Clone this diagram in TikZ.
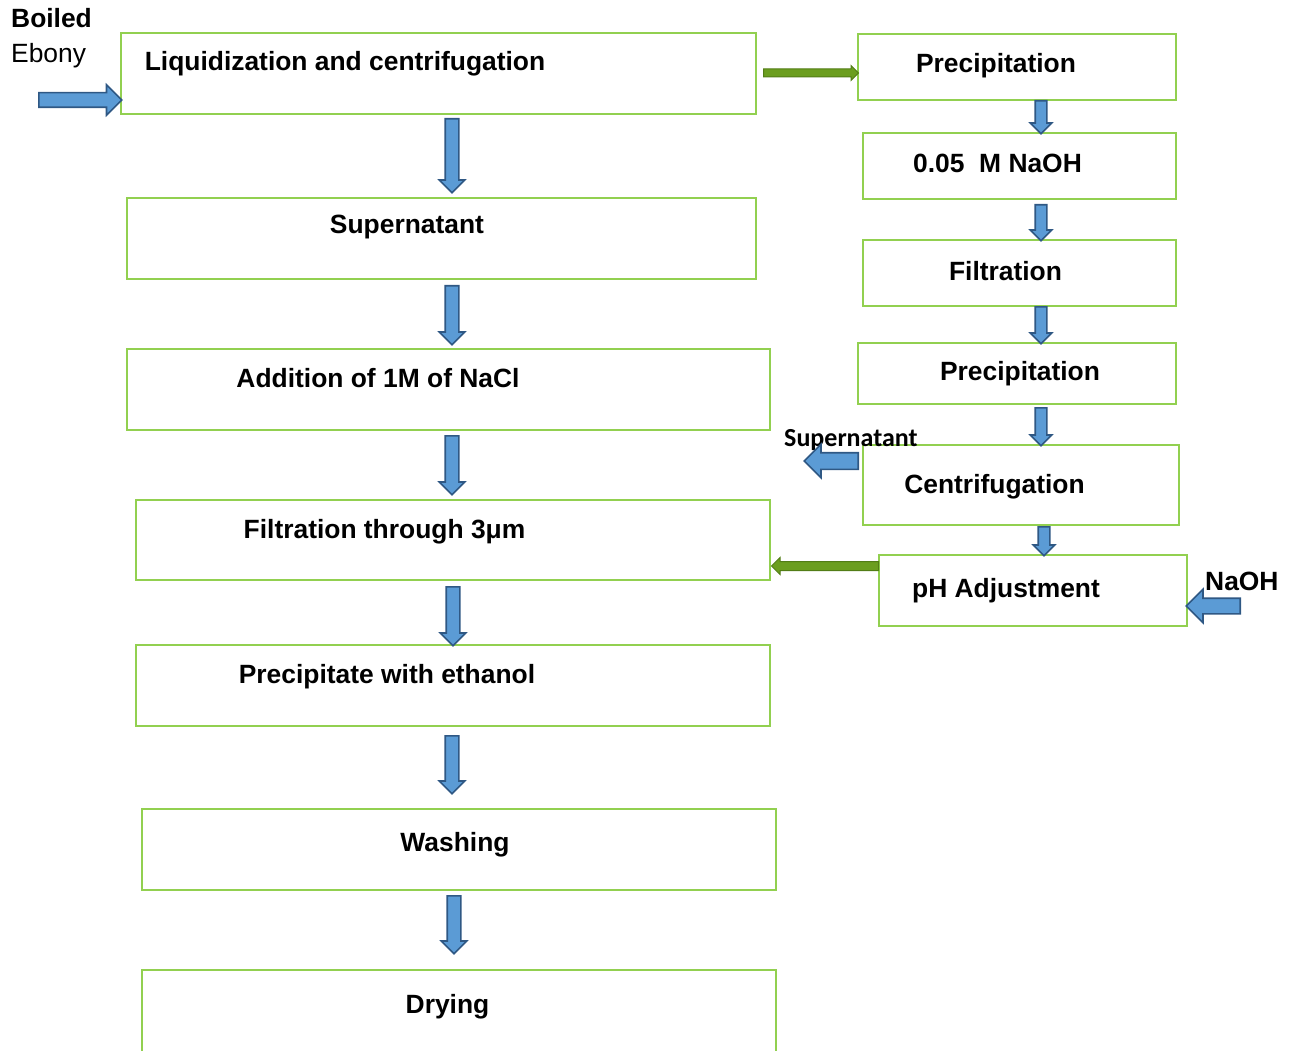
\documentclass[tikz,border=0pt]{standalone}
\usepackage{fontspec}
\setmainfont{Liberation Sans}
\newfontfamily\calfont{Carlito}
\usetikzlibrary{shapes.arrows}
\definecolor{boxgreen}{RGB}{146,208,80}
\definecolor{arrowblue}{RGB}{91,155,213}
\definecolor{arrowedge}{RGB}{47,88,132}
\definecolor{oliveg}{RGB}{107,158,31}
\definecolor{oliveedge}{RGB}{82,125,22}
\tikzstyle{box} = [rectangle, draw=boxgreen, line width=2pt, inner sep=0pt]
\tikzstyle{txt} = [anchor=base, inner sep=0pt, font=\fontsize{26.4}{30}\selectfont\bfseries]
\tikzstyle{bluearrow} = [single arrow, anchor=tail, draw=arrowedge, fill=arrowblue, line width=1.6pt, inner xsep=0pt, minimum width=0pt]
\tikzstyle{greenarrow} = [single arrow, anchor=tail, draw=oliveedge, fill=oliveg, line width=1pt, inner xsep=0pt, minimum width=0pt]
\tikzstyle{downarrow} = [bluearrow, rotate=-90, inner ysep=6pt, single arrow head extend=6pt]
\tikzstyle{smalldown} = [bluearrow, rotate=-90, inner ysep=5pt, single arrow head extend=5pt]

\begin{document}
\begin{tikzpicture}[x=1pt, y=-1pt]
	\useasboundingbox (0,0) rectangle (1291,1051);

	% main column
	\node (liq) [box, minimum width=635pt, minimum height=81pt] at (438.5,73.5) {};
	\node (sup) [box, minimum width=629pt, minimum height=81pt] at (441.5,238.5) {};
	\node (nacl) [box, minimum width=643pt, minimum height=81pt] at (448.5,389.5) {};
	\node (filt) [box, minimum width=634pt, minimum height=80pt] at (453,540) {};
	\node (eth) [box, minimum width=634pt, minimum height=81pt] at (453,685.5) {};
	\node (wash) [box, minimum width=634pt, minimum height=81pt] at (459,849.5) {};
	\node (dry) [box, minimum width=634pt, minimum height=82pt] at (459,1011) {};

	\node (liq-t) [txt] at (345,71) {Liquidization and centrifugation};
	\node (sup-t) [txt] at (407,234) {Supernatant};
	\node (nacl-t) [txt] at (378,387) {Addition of 1M of NaCl};
	\node (filt-t) [txt] at (384.5,538) {Filtration through 3μm};
	\node (eth-t) [txt] at (387,683) {Precipitate with ethanol};
	\node (wash-t) [txt] at (455,851) {Washing};
	\node (dry-t) [txt] at (447.5,1013) {Drying};

	% side column
	\node (prec1) [box, minimum width=318pt, minimum height=66pt] at (1017,67) {};
	\node (naoh) [box, minimum width=313pt, minimum height=66pt] at (1019.5,166) {};
	\node (filt2) [box, minimum width=313pt, minimum height=66pt] at (1019.5,273) {};
	\node (prec2) [box, minimum width=318pt, minimum height=61pt] at (1017,373.5) {};
	\node (cent) [box, minimum width=316pt, minimum height=80pt] at (1021,485) {};
	\node (ph) [box, minimum width=308pt, minimum height=71pt] at (1033,590.5) {};

	\node (prec1-t) [txt] at (996,73) {Precipitation};
	\node (naoh-t) [txt] at (997.5,173) {0.05\ \ M NaOH};
	\node (filt2-t) [txt] at (1005.5,280) {Filtration};
	\node (prec2-t) [txt] at (1020,380) {Precipitation};
	\node (cent-t) [txt] at (994.5,493) {Centrifugation};
	\node (ph-t) [txt] at (1006,597) {pH Adjustment};

	% inputs and outputs
	\node (boiled) [txt, anchor=base west] at (11,28) {Boiled};
	\node (ebony) [txt, anchor=base west, font=\fontsize{26.4}{30}\selectfont] at (11,63) {Ebony};
	\node (naoh-in) [txt, anchor=base west] at (1205,590) {NaOH};
	\node (sup-out) [txt, anchor=base west, font=\fontsize{26}{30}\calfont\bfseries] at (784,446) {Supernatant};

	% block arrows
	\node (a-in) [bluearrow, minimum height=83pt, inner ysep=6.5pt, single arrow head extend=8pt] at (38,100) {};
	\node (a1) [downarrow, minimum height=74pt] at (452,118) {};
	\node (a2) [downarrow, minimum height=59pt] at (452,285) {};
	\node (a3) [downarrow, minimum height=59pt] at (452,435) {};
	\node (a4) [downarrow, minimum height=59pt] at (453,586) {};
	\node (a5) [downarrow, minimum height=58pt] at (452,735) {};
	\node (a6) [downarrow, minimum height=58pt] at (454,895) {};

	\node (b1) [smalldown, minimum height=33pt] at (1041,100) {};
	\node (b2) [smalldown, minimum height=36pt] at (1041,204) {};
	\node (b3) [smalldown, minimum height=37pt] at (1041,306) {};
	\node (b4) [smalldown, minimum height=38pt] at (1041,407) {};
	\node (b5) [smalldown, minimum height=29pt] at (1044,526) {};

	\node (a-sup) [bluearrow, rotate=180, minimum height=54pt, inner ysep=7.5pt, single arrow head extend=8.5pt] at (859,461) {};
	\node (a-naoh) [bluearrow, rotate=180, minimum height=54pt, inner ysep=7pt, single arrow head extend=9pt] at (1241,606) {};

	\node (g-top) [greenarrow, minimum height=95pt, inner ysep=3.5pt, single arrow head extend=3.5pt] at (763,73) {};
	\node (g-back) [greenarrow, rotate=180, minimum height=107pt, inner ysep=4pt, single arrow head extend=4pt] at (879,566) {};
\end{tikzpicture}
\end{document}
